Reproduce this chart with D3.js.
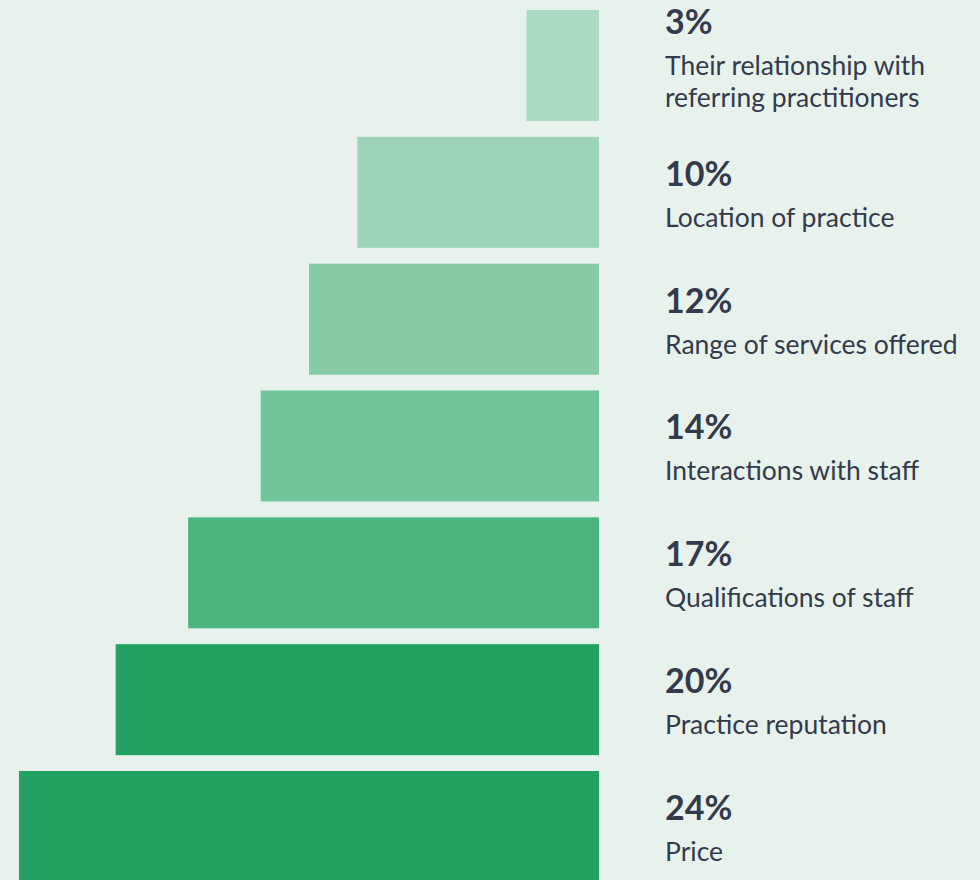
<!DOCTYPE html>
<html>
<head>
<meta charset="utf-8">
<script src="https://cdn.jsdelivr.net/npm/d3@7"></script>
<style>
  html, body { margin: 0; padding: 0; background: #e8f2ed; }
  svg { display: block; }
  text { font-family: Lato, "Noto Sans", sans-serif; fill: #333a4b; }
</style>
</head>
<body>
<svg id="chart" width="980" height="880"></svg>
<script>
// Survey factors, top to bottom
const categories = [
  "Their relationship with referring practitioners",
  "Location of practice",
  "Range of services offered",
  "Interactions with staff",
  "Qualifications of staff",
  "Practice reputation",
  "Price"
];
const values = [3, 10, 12, 14, 17, 20, 24];
const barColors = ["#abdbc3", "#9dd4b9", "#87c9a5", "#72c49b", "#4cb47e", "#22a160", "#22a160"];

const barRight = 599;
const textX = 665;
const labelMaxWidth = 312;
const labelSize = 26.5;

const svg = d3.select("#chart");

const x = d3.scaleLinear().domain([0, 24]).range([0, 580]);
const y = d3.scaleBand()
  .domain(categories)
  .range([10, 882])
  .paddingInner(0.1248)
  .paddingOuter(0);

const rows = categories.map((c, i) => ({ cat: c, value: values[i], color: barColors[i] }));

// Bars grow leftwards from a shared right edge
svg.append("g").selectAll("rect")
  .data(rows)
  .join("rect")
  .attr("x", d => barRight - x(d.value))
  .attr("y", d => y(d.cat))
  .attr("width", d => x(d.value))
  .attr("height", y.bandwidth())
  .attr("fill", d => d.color);

// Word-wrap helper using a scratch text node
const scratch = svg.append("text").attr("font-size", labelSize).attr("visibility", "hidden");
function wrap(str) {
  const words = str.split(" ");
  const lines = [];
  let cur = "";
  words.forEach(w => {
    const test = cur ? cur + " " + w : w;
    scratch.text(test);
    if (scratch.node().getComputedTextLength() > labelMaxWidth && cur) {
      lines.push(cur);
      cur = w;
    } else {
      cur = test;
    }
  });
  if (cur) lines.push(cur);
  return lines;
}

const labels = svg.append("g").selectAll("g")
  .data(rows)
  .join("g")
  .attr("transform", d => `translate(${textX},${y(d.cat)})`);

labels.each(function(d) {
  const g = d3.select(this);
  const lines = wrap(d.cat);
  const top = 49 - (lines.length - 1) * 25;
  g.append("text")
    .attr("x", 0)
    .attr("y", top)
    .attr("font-size", 34)
    .attr("font-weight", 700)
    .text(d3.format("d")(d.value) + "%");
  const t = g.append("text")
    .attr("x", 0)
    .attr("y", top + 41)
    .attr("font-size", labelSize);
  lines.forEach((ln, i) => {
    t.append("tspan").attr("x", 0).attr("dy", i === 0 ? 0 : 32).text(ln);
  });
});

scratch.remove();
</script>
</body>
</html>
